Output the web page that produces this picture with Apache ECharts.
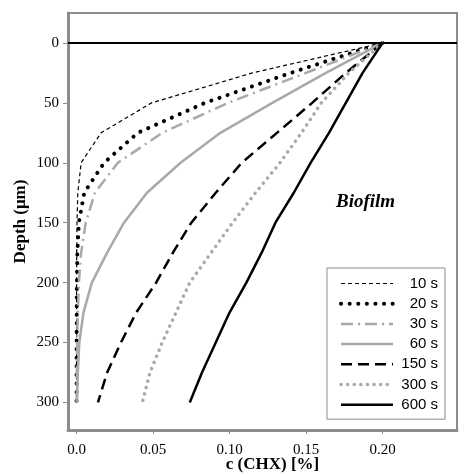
<!DOCTYPE html>
<html>
<head>
<meta charset="utf-8">
<style>
  html, body { margin: 0; padding: 0; background: #fff; }
  #chart { width: 459px; height: 476px; }
</style>
<script src="https://cdn.jsdelivr.net/npm/echarts@6/dist/echarts.min.js"></script>
</head>
<body>
<div id="chart"></div>
<script>
// depth in µm, concentration c (CHX) in %
const depths = [0, 25, 50, 75, 100, 125, 150, 175, 200, 225, 250, 275, 300];
const c10  = [0.200, 0.115, 0.049, 0.016, 0.003, 0.0008, 0.0003, 0.0001, 0, 0, 0, 0, 0];
const c20  = [0.200, 0.140, 0.084, 0.040, 0.018, 0.005, 0.0015, 0.0005, 0.0002, 0.0001, 0, 0, 0];
const c30  = [0.200, 0.150, 0.099, 0.056, 0.027, 0.012, 0.006, 0.003, 0.0015, 0.0008, 0.0004, 0.0002, 0.0001];
const c60  = [0.200, 0.163, 0.128, 0.094, 0.068, 0.046, 0.031, 0.020, 0.010, 0.0045, 0.0018, 0.0008, 0.0003];
const c150 = [0.200, 0.176, 0.154, 0.131, 0.108, 0.091, 0.075, 0.063, 0.052, 0.039, 0.029, 0.020, 0.014];
const c300 = [0.200, 0.178, 0.160, 0.147, 0.133, 0.117, 0.102, 0.088, 0.074, 0.065, 0.056, 0.048, 0.043];
const c600 = [0.200, 0.187, 0.176, 0.165, 0.153, 0.142, 0.130, 0.121, 0.111, 0.100, 0.091, 0.082, 0.074];

const names = ['10 s', '20 s', '30 s', '60 s', '150 s', '300 s', '600 s'];
const xTicks = [0, 0.05, 0.10, 0.15, 0.20];
const xTickLabels = ['0.0', '0.05', '0.10', '0.15', '0.20'];
const yTicks = [0, 50, 100, 150, 200, 250, 300];

const gray = '#a9a9a9';
const styles = [
  { color: '#000', width: 1.2, type: [4, 3] },
  { color: '#000', width: 4, type: [0.1, 8.5], cap: 'round' },
  { color: gray, width: 2.5, type: [12, 5, 2, 5] },
  { color: gray, width: 2.5, type: 'solid' },
  { color: '#000', width: 2.5, type: [11, 6] },
  { color: gray, width: 3.5, type: [0.1, 6.5], cap: 'round' },
  { color: '#000', width: 2.5, type: 'solid' }
];
const values = [c10, c20, c30, c60, c150, c300, c600];

const serif = 'Liberation Serif';

const series = values.map(function (vals, i) {
  const s = {
    name: names[i],
    type: 'line',
    showSymbol: false,
    symbol: 'none',
    lineStyle: styles[i],
    itemStyle: { color: styles[i].color },
    data: vals.map(function (c, j) { return [c, depths[j]]; }),
    z: 3
  };
  if (i === 6) {
    s.markLine = {
      silent: true,
      symbol: 'none',
      label: { show: false },
      lineStyle: { color: '#000', width: 2, type: 'solid' },
      data: [{ yAxis: 0 }]
    };
  }
  return s;
});

const chart = echarts.init(document.getElementById('chart'));
chart.setOption({
  animation: false,
  grid: {
    left: 68, right: 2, top: 13, bottom: 46,
    outerBoundsMode: 'none',
    containLabel: false,
    show: true, borderColor: '#8c8c8c', borderWidth: 2
  },
  xAxis: {
    type: 'value',
    min: -0.0056, max: 0.2487,
    name: 'c (CHX) [%]',
    nameLocation: 'middle',
    nameMoveOverlap: false,
    nameGap: 26,
    nameTextStyle: { fontFamily: serif, fontWeight: 'bold', fontSize: 17, color: '#000', padding: [0, 0, 0, 20] },
    axisLine: { onZero: false, lineStyle: { color: '#8c8c8c', width: 3 } },
    axisTick: { show: true, length: 4, lineStyle: { color: '#8c8c8c' }, customValues: xTicks },
    axisLabel: {
      customValues: xTicks,
      margin: 13,
      fontFamily: serif, fontSize: 15, color: '#000',
      formatter: function (v) {
        const k = xTicks.findIndex(function (t) { return Math.abs(t - v) < 1e-9; });
        return k >= 0 ? xTickLabels[k] : '';
      }
    },
    splitLine: { show: false }
  },
  yAxis: {
    type: 'value',
    inverse: true,
    min: -25, max: 323,
    name: 'Depth (μm)',
    nameLocation: 'middle',
    nameMoveOverlap: false,
    nameGap: 39,
    nameRotate: 90,
    nameTextStyle: { fontFamily: serif, fontWeight: 'bold', fontSize: 17, color: '#000' },
    axisLine: { onZero: false, lineStyle: { color: '#8c8c8c', width: 3 } },
    axisTick: { show: true, length: 5, lineStyle: { color: '#8c8c8c' }, customValues: yTicks },
    axisLabel: { customValues: yTicks, margin: 9, padding: [3, 0, 0, 0], fontFamily: serif, fontSize: 15, color: '#000' },
    splitLine: { show: false }
  },
  legend: {
    orient: 'vertical',
    left: 327, top: 268,
    padding: [8, 7, 7, 12],
    itemWidth: 52, itemHeight: 14, itemGap: 5.2,
    itemTextGap: 5,
    borderColor: '#8c8c8c', borderWidth: 1,
    backgroundColor: '#fff',
    itemStyle: { opacity: 0 },
    data: names.map(function (n, i) {
      return { name: n, lineStyle: { width: styles[i].width } };
    }),
    formatter: function (n) { return '{r|' + n + '}'; },
    textStyle: {
      fontFamily: 'Liberation Sans', fontSize: 15, color: '#000',
      rich: { r: { width: 40, align: 'right', fontFamily: 'Liberation Sans', fontSize: 15 } }
    }
  },
  graphic: [{
    type: 'text',
    left: 336, top: 193,
    style: { text: 'Biofilm', fontFamily: serif, fontWeight: 'bold', fontStyle: 'italic', fontSize: 19, fill: '#000' }
  }],
  series: series
});
</script>
</body>
</html>
